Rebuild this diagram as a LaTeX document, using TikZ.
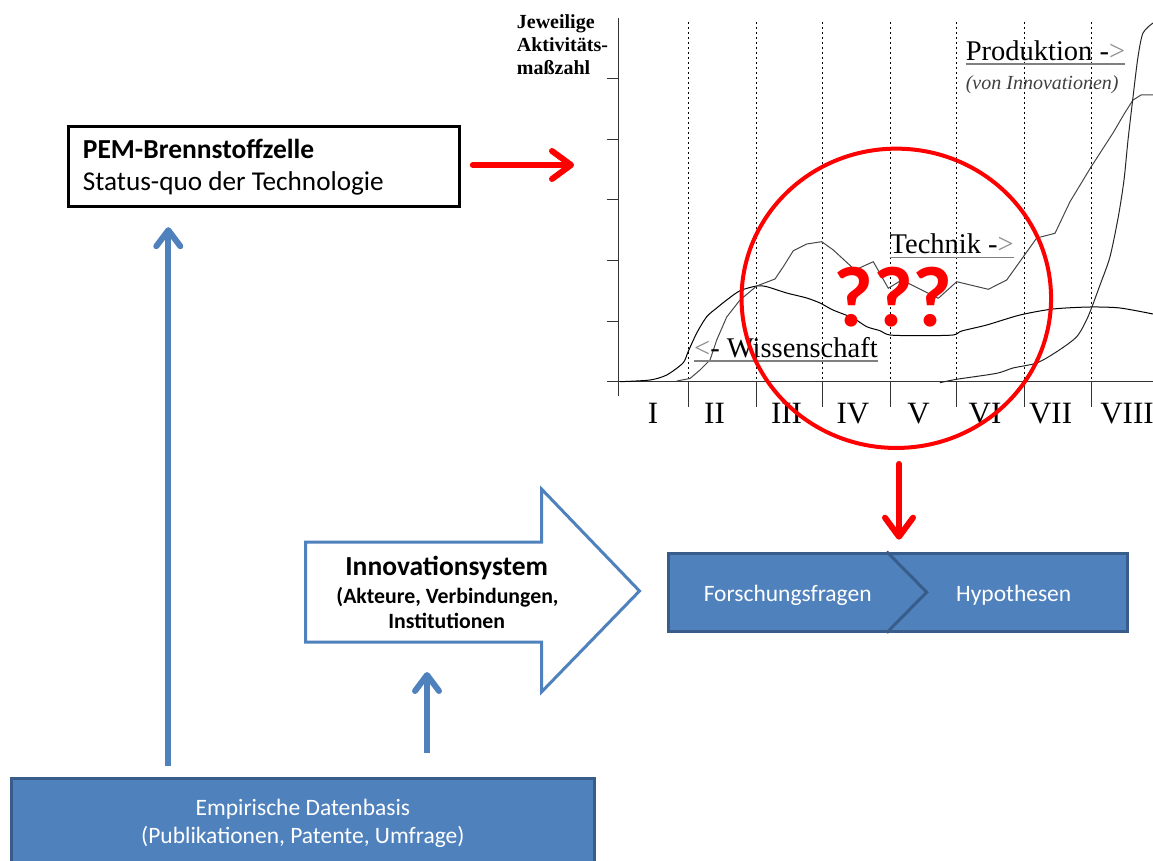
\documentclass[tikz,border=0pt]{standalone}
\usepackage{fontspec}
\setmainfont{Carlito}
\newfontfamily\timesf{Liberation Serif}
\usetikzlibrary{arrows.meta,shapes.geometric}

\definecolor{ppblue}{HTML}{4F81BD}
\definecolor{ppdark}{HTML}{385D8A}
\definecolor{axisgray}{gray}{0.2}
\definecolor{lightgraytxt}{gray}{0.55}

\tikzset{
  redarrow/.style={draw=red, line width=6pt, line cap=round,
    -{Straight Barb[length=19pt,width=28pt,round]}},
  bluearrow/.style={draw=ppblue, line width=6pt,
    -{Straight Barb[length=16pt,width=24pt,round]}},
  bluebox/.style={fill=ppblue, draw=ppdark, line width=3pt, inner sep=0},
  boxtext/.style={text=white, font=\fontsize{23.5}{27}\selectfont, anchor=base, inner sep=0},
  chartlbl/.style={font=\timesf\fontsize{28.5}{30}\selectfont, anchor=base west, inner sep=0},
  roman/.style={font=\timesf\fontsize{31}{32}\selectfont, anchor=base, inner sep=0},
  ylbl/.style={font=\timesf\bfseries\fontsize{20}{22}\selectfont, anchor=base west, inner sep=0},
  uline/.style={draw=black!50, line width=1.2pt},
  axisline/.style={draw=axisgray, line width=1.2pt},
  phase/.style={draw=black, line width=0.8pt, dash pattern=on 2.5pt off 2.5pt},
  curve/.style={line width=1pt, line join=round},
}

\begin{document}
\begin{tikzpicture}[x=1pt,y=-1pt]
\useasboundingbox (0,0) rectangle (1153,861);
\clip (0,0) rectangle (1153,861);

% ---------- activity chart ----------
\foreach \x in {688.7,756,822.8,890.7,956,1024,1091.4}{
  \draw[phase] (\x,21.7) -- (\x,381.7);
  \draw[axisline, line width=1pt] (\x,381.7) -- (\x,407);
}
\draw[axisline] (606.7,381.7) -- (1153,381.7);
\draw[axisline] (618.7,18) -- (618.7,396);
\foreach \k in {1,...,5}{
  \draw[axisline] (606.7,381.7-60.6*\k) -- (618.7,381.7-60.6*\k);
}

% Wissenschaft
\draw[curve, black] plot[smooth, tension=0.45] coordinates {
  (620,381.7) (650,380) (666.7,375) (683,363) (688,352) (696.7,333)
  (706.7,316.7) (716.7,308) (726.7,300) (740,290.7) (756.7,286)
  (766.7,286.7) (786.7,293) (806.7,298) (820,303) (833,310) (853,318)
  (866.7,326.7) (880,330.7) (890,335) (920,335.7) (953,335) (961.7,331)
  (986.7,325) (1020,315) (1053,309) (1090,307) (1120,308) (1153,314)};
% Technik
\draw[curve, black!72] (676.7,381) -- (690,378.5) -- (700,370) -- (710,360)
  -- (716.7,340) -- (726.7,317) -- (740,300) -- (756.7,286) -- (775,279)
  -- (783.3,266.7) -- (793.3,250.7) -- (806.7,244) -- (821.7,241.7)
  -- (833.3,250) -- (855,270) -- (873.3,261.7) -- (888.3,288.3)
  -- (901.7,280) -- (938.3,298.3) -- (956.7,281.7) -- (988.3,289.3)
  -- (1006.7,280) -- (1036.7,238) -- (1055,233.3) -- (1070,201.7)
  -- (1091,167) -- (1113,133) -- (1124.7,113) -- (1133,100) -- (1141,95)
  -- (1153,95);
% Produktion
\draw[curve, black!85] plot[smooth, tension=0.45] coordinates {
  (940,382.7) (956.7,379.3) (996.7,373.3) (1013,368) (1036.7,363)
  (1056.7,351.7) (1076.7,336.7) (1088,316.7) (1100,285) (1110,256.7)
  (1118.3,216.7) (1124,180) (1128,140) (1133,97) (1138,56.7) (1143,33)
  (1153,23)};

% axis texts
\node[ylbl] (ylab1) at (516.7,28.3) {Jeweilige};
\node[ylbl] (ylab2) at (516.7,51.7) {Aktivitäts-};
\node[ylbl] (ylab3) at (516.7,75) {maßzahl};

\node[roman] (r1) at (653,423.3) {I};
\node[roman] (r2) at (714.5,423.3) {II};
\node[roman] (r3) at (786.5,423.3) {III};
\node[roman] (r4) at (853,423.3) {IV};
\node[roman] (r5) at (918.6,423.3) {V};
\node[roman] (r6) at (985,423.3) {VI};
\node[roman] (r7) at (1050.6,423.3) {VII};
\node[roman] (r8) at (1127,423.3) {VIII};

\node[chartlbl] (prod) at (965.6,61) {Produktion -{\color{lightgraytxt}>}};
\draw[uline] ([yshift=-3pt]prod.base west) -- ([yshift=-3pt]prod.base east);
\node[chartlbl, font=\timesf\itshape\fontsize{20}{22}\selectfont, text=black!75]
  (prodsub) at (965.6,90) {(von Innovationen)};
\node[chartlbl] (tech) at (889.5,253.5) {Technik -{\color{lightgraytxt}>}};
\draw[uline] ([yshift=-4pt]tech.base west) -- ([yshift=-4pt]tech.base east);
\node[chartlbl] (wiss) at (694,357) {{\color{lightgraytxt}<}- Wissenschaft};
\draw[uline] ([yshift=-4pt]wiss.base west) -- ([yshift=-4pt]wiss.base east);

% open questions
\node[draw=red, line width=4pt, ellipse, minimum width=309.5pt,
  minimum height=299.3pt, inner sep=0] (qcircle) at (896.3,298.3) {};
\node[text=red, font=\bfseries\fontsize{86}{88}\selectfont, anchor=base,
  inner sep=0, text depth=0pt] (qmarks) at (893,326.5) {???};

% ---------- technology box ----------
\node[draw=black, line width=3pt, minimum width=391pt, minimum height=80pt,
  inner sep=0] (pem) at (263.8,166.7) {};
\node[anchor=base west, inner sep=0, font=\bfseries\fontsize{27.5}{30}\selectfont]
  (pemtitle) at (82.7,158.3) {PEM-Brennstoffzelle};
\node[anchor=base west, inner sep=0, font=\fontsize{27.2}{30}\selectfont]
  (pemsub) at (82.7,190.7) {Status-quo der Technologie};
\coordinate (chartin) at (574,165);
\draw[redarrow] ([xshift=12pt,yshift=1.7pt]pem.east) -- (chartin);

% ---------- research questions ----------
\node[bluebox, minimum width=459pt, minimum height=78pt] (fbox) at (898.3,592.2) {};
\draw[ppdark, line width=3pt, line join=miter]
  ([xshift=-11.6pt]fbox.north) -- ([xshift=28.4pt]fbox.center) -- ([xshift=-11.6pt]fbox.south);
\node[boxtext] (ff) at (787.7,601) {Forschungsfragen};
\node[boxtext] (hy) at (1013.7,601) {Hypothesen};
\coordinate (qdown) at (899,0);
\draw[redarrow, shorten <=14pt, shorten >=12pt]
  (qcircle.south -| qdown) -- (fbox.north -| qdown);

% ---------- innovation system arrow ----------
\draw[ppblue, line width=3pt, fill=white, line join=miter]
  (305.5,542) -- (541.5,542) -- (541.5,489) -- (639.5,591) -- (541.5,692)
  -- (541.5,642) -- (305.5,642) -- cycle;
\node[anchor=base, inner sep=0, font=\bfseries\fontsize{27.5}{30}\selectfont]
  (inno) at (446.7,575) {Innovationsystem};
\node[anchor=base, inner sep=0, font=\bfseries\fontsize{21.8}{24}\selectfont]
  (inno2) at (447.5,603.3) {(Akteure, Verbindungen,};
\node[anchor=base, inner sep=0, font=\bfseries\fontsize{21.8}{24}\selectfont]
  (inno3) at (446.7,628.3) {Institutionen};
\coordinate (innobase) at (427,642);

% ---------- empirical data ----------
\node[bluebox, minimum width=582.8pt, minimum height=110pt, anchor=north]
  (emp) at (302.85,776.5) {};
\node[boxtext] (emp1) at (302.85,815) {Empirische Datenbasis};
\node[boxtext] (emp2) at (302.85,843.3) {(Publikationen, Patente, Umfrage)};

\coordinate (leftup) at (168.3,0);
\draw[bluearrow, shorten <=11pt, shorten >=19pt]
  (emp.north -| leftup) -- (pem.south -| leftup);
\draw[bluearrow, shorten <=24pt, shorten >=30pt]
  (emp.north -| innobase) -- (innobase);
\end{tikzpicture}
\end{document}
